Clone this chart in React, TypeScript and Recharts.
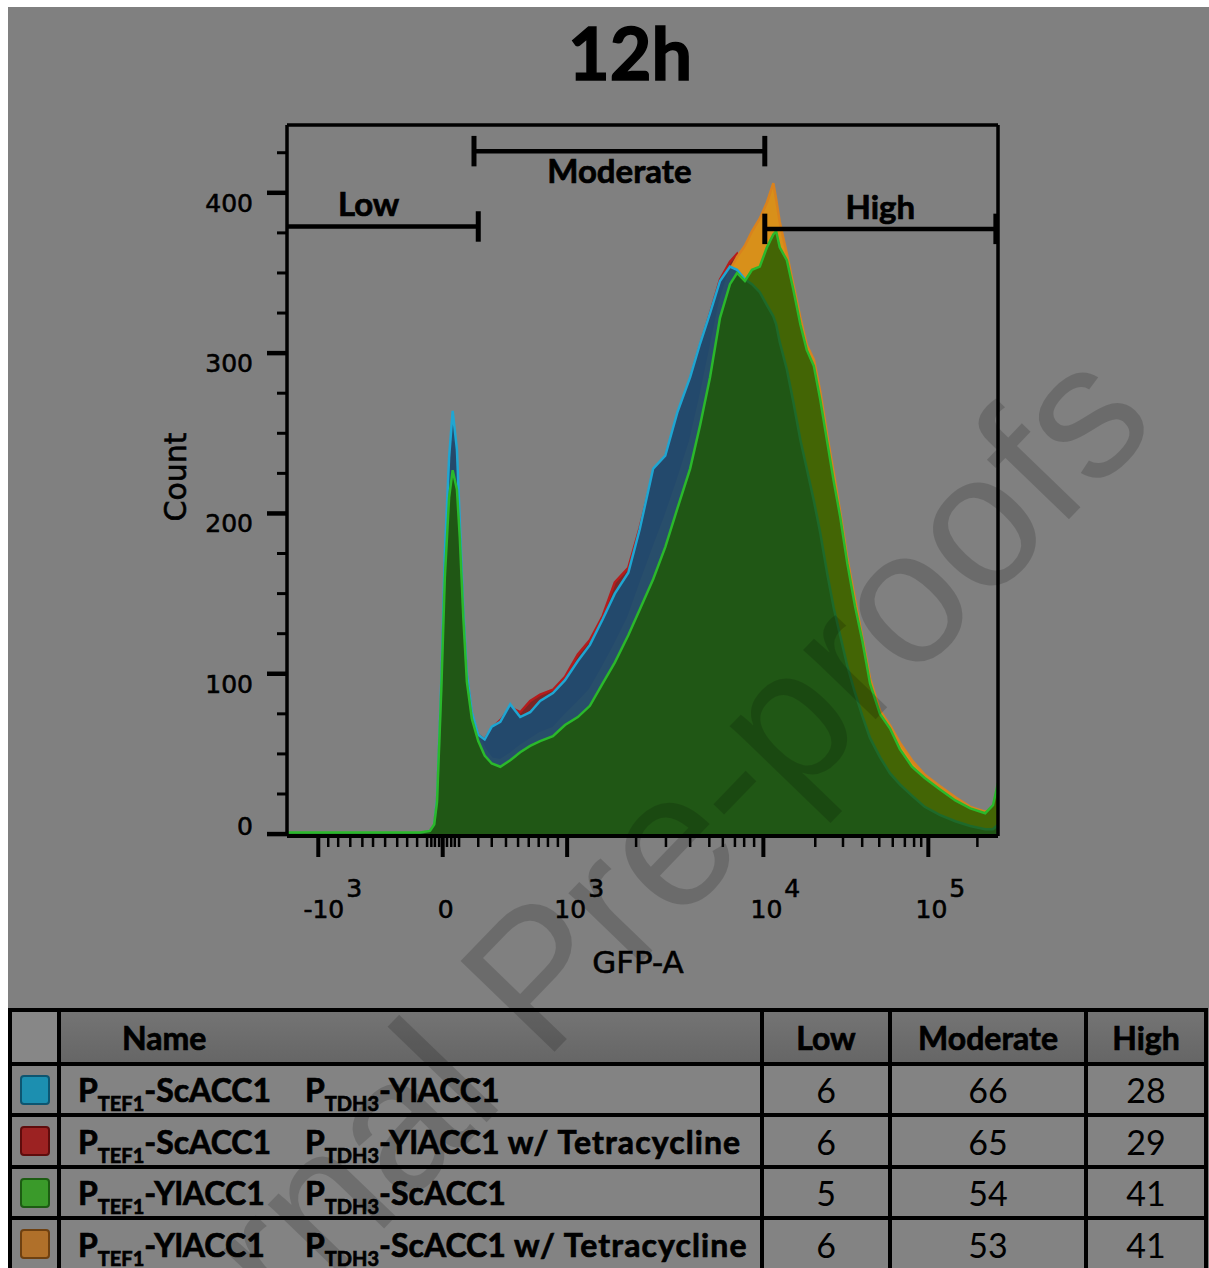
import React from 'react';
import { AreaChart, Area, XAxis, YAxis, ReferenceLine } from 'recharts';

// GFP-A on the instrument display scale (0 = left edge, 1000 = right edge of the plot)
const channels = [
  0, 187, 201, 207, 211, 217, 222, 228, 233, 239, 243, 248, 253, 260, 269, 278, 288, 300, 314, 328,
  342, 356, 374, 391, 409, 426, 444, 461, 480, 496, 515, 532, 549, 567, 581, 595, 609, 623, 633, 644,
  654, 665, 675, 684, 688, 693, 703, 712, 722, 731, 741, 750, 760, 769, 778, 788, 799, 809, 820, 834,
  848, 862, 879, 897, 918, 940, 961, 982, 993, 1000,
];

// counts per channel, one list per strain
const countScTef = [
  0.5, 0.5, 2, 6, 22, 95, 175, 235, 264, 240, 195, 140, 100, 76, 62, 59, 67, 70, 81, 73,
  76, 83, 88, 96, 108, 118, 134, 150, 163, 190, 228, 236, 263, 285, 306, 325, 345, 354, 352, 346,
  343, 338, 330, 323, 318, 307, 290, 270, 246, 228, 208, 188, 162, 141, 124, 105, 88, 74, 60, 48,
  38, 31, 24, 17, 12, 8, 5, 3, 3, 6,
];
const countScTefTet = [
  0.5, 0.5, 2, 6, 20, 88, 165, 222, 245, 225, 185, 135, 98, 74, 62, 59, 66, 71, 79, 76,
  83, 87, 90, 98, 112, 121, 136, 157, 166, 191, 225, 235, 260, 284, 305, 325, 346, 357, 362, 350,
  345, 340, 333, 326, 322, 311, 294, 274, 252, 233, 213, 193, 167, 146, 128, 109, 92, 78, 63, 50,
  40, 33, 26, 19, 13, 9, 5, 3, 3, 5,
];
const countYlTef = [
  1, 1, 2, 6, 20, 90, 160, 210, 227, 215, 185, 135, 95, 72, 58, 49, 44, 42, 46, 51,
  55, 58, 61, 68, 73, 80, 94, 107, 124, 140, 159, 179, 203, 228, 255, 285, 322, 343, 350, 345,
  352, 354, 366, 374, 376, 366, 358, 340, 318, 302, 292, 271, 244, 220, 198, 169, 142, 121, 94, 75,
  66, 53, 42, 35, 28, 21, 16, 13, 18, 32,
];
const countYlTefTet = [
  0.5, 0.5, 2, 6, 20, 88, 158, 205, 222, 210, 182, 135, 96, 74, 62, 53, 47, 46, 50, 55,
  59, 63, 66, 74, 82, 90, 104, 118, 135, 155, 178, 198, 220, 245, 272, 302, 332, 352, 360, 367,
  376, 384, 394, 406, 396, 382, 362, 343, 322, 305, 296, 276, 248, 225, 201, 172, 146, 123, 97, 77,
  68, 57, 46, 37, 30, 23, 17, 14, 16, 26,
];

const majorTicks = [44, 219, 394, 670, 902];
const majorBase = ['-10', '0', '10', '10', '10'];
const majorExp = ['3', '', '3', '4', '5'];
const minorTicks = [
  58, 72, 89, 106, 121, 138, 155, 169, 183, 197, 203, 208, 214, 225, 231, 236, 242,
  269, 288, 308, 325, 340, 354, 367, 381, 491, 533, 567, 594, 613, 630, 643, 657,
  743, 782, 809, 833, 852, 869, 882, 892, 971,
];
const countTicks = [0, 25, 50, 75, 100, 125, 150, 175, 200, 225, 250, 275, 300, 325, 350, 375, 400, 425];

const gateNames = ['Low', 'Moderate', 'High'];
const gateFrom = [0, 263, 672];
const gateTo = [269, 672, 997];
const gateLevel = [379, 426, 377.5];

const tefGene = ['ScACC1', 'ScACC1', 'YlACC1', 'YlACC1'];
const tdhGene = ['YlACC1', 'YlACC1', 'ScACC1', 'ScACC1'];
const treatment = ['', ' w/ Tetracycline', '', ' w/ Tetracycline'];
const lowPct = [6, 6, 5, 6];
const moderatePct = [66, 65, 54, 53];
const highPct = [28, 29, 41, 41];

const histogram = channels.map((ch, i) => ({
  ch,
  scTef: countScTef[i],
  scTefTet: countScTefTet[i],
  ylTef: countYlTef[i],
  ylTefTet: countYlTefTet[i],
}));

// drawing order: green last so it sits on top
const series = [
  { key: 'scTefTet', stroke: '#b51c1c', fill: '#7a1c1c', opacity: 0.9 },
  { key: 'ylTefTet', stroke: '#d8821e', fill: '#d8901a', opacity: 1 },
  { key: 'scTef', stroke: '#1fa6d2', fill: '#1f4b70', opacity: 0.95 },
  { key: 'ylTef', stroke: '#2bb82b', fill: '#1e5a00', opacity: 0.8 },
];

const swatchFill = ['#1c8fb0', '#9c2222', '#3a9a2a', '#b0702a'];
const swatchEdge = ['#0d5570', '#5e0c0c', '#1c5c12', '#6e4010'];

const axisFont = '"DejaVu Sans", sans-serif';
const labelFont = 'Lato, "Open Sans", sans-serif';

const GfpTick = (props: any) => {
  const { x, y, payload } = props;
  const i = majorTicks.indexOf(payload.value);
  const major = i >= 0;
  const neg = major && majorBase[i].startsWith('-');
  return (
    <g>
      <line x1={x} x2={x} y1={y} y2={y + (major ? 21 : 11)} stroke="#000" strokeWidth={major ? 4 : 2.5} />
      {major && (
        <g fontSize={25} fontFamily={axisFont} fill="#000" stroke="#000" strokeWidth={0.6}>
          {majorExp[i] === '' ? (
            <text x={x + 3} y={y + 82} textAnchor="middle">
              {majorBase[i]}
            </text>
          ) : (
            <>
              <text x={x + (neg ? 26 : 19)} y={y + 82} textAnchor="end">
                {majorBase[i]}
              </text>
              <text x={x + (neg ? 28 : 21)} y={y + 61}>
                {majorExp[i]}
              </text>
            </>
          )}
        </g>
      )}
    </g>
  );
};

const CountTick = (props: any) => {
  const { x, y, payload } = props;
  const major = payload.value % 100 === 0;
  return (
    <g>
      <line x1={x - (major ? 20 : 10)} x2={x} y1={y} y2={y} stroke="#000" strokeWidth={major ? 4.5 : 3} />
      {major && (
        <text
          x={x - 34}
          y={y + (payload.value === 0 ? 1 : 19)}
          textAnchor="end"
          fontSize={25}
          fontFamily={axisFont}
          fill="#000"
          stroke="#000"
          strokeWidth={0.6}
        >
          {payload.value}
        </text>
      )}
    </g>
  );
};

const cellBase: React.CSSProperties = {
  background: '#838383',
  display: 'flex',
  alignItems: 'center',
  whiteSpace: 'nowrap',
};
const heavy: React.CSSProperties = { fontWeight: 700, WebkitTextStroke: '0.7px #000' };
const headBg = 'linear-gradient(#747474, #666666)';
const sub: React.CSSProperties = { fontSize: 20, position: 'relative', top: 9 };

export default function App() {
  return (
    <div
      style={{
        position: 'fixed',
        left: 8,
        top: 7,
        width: 1201,
        height: 1261,
        background: '#808080',
        overflow: 'hidden',
        fontFamily: labelFont,
      }}
    >
      <svg width={1201} height={1000} style={{ position: 'absolute', left: 0, top: 0 }}>
        <text
          x={622}
          y={73}
          textAnchor="middle"
          fontSize={72}
          fontWeight={700}
          fontFamily={labelFont}
          fill="#000"
          stroke="#000"
          strokeWidth={1.5}
        >
          12h
        </text>
        <text
          x={178}
          y={470}
          transform="rotate(-90 178 470)"
          textAnchor="middle"
          fontSize={30}
          fontFamily={axisFont}
          fill="#000"
          stroke="#000"
          strokeWidth={0.6}
        >
          Count
        </text>
        <text
          x={630}
          y={966}
          textAnchor="middle"
          fontSize={31}
          fontFamily={axisFont}
          fill="#000"
          stroke="#000"
          strokeWidth={0.6}
        >
          GFP-A
        </text>
      </svg>

      <div style={{ position: 'absolute', left: 0, top: 0 }}>
        <AreaChart
          width={1201}
          height={1000}
          data={histogram}
          margin={{ top: 118, right: 211, left: 199, bottom: 111 }}
        >
          <XAxis
            type="number"
            dataKey="ch"
            domain={[0, 1000]}
            ticks={[...minorTicks, ...majorTicks].sort((a, b) => a - b)}
            interval={0}
            tick={(p: any) => <GfpTick {...p} />}
            tickLine={false}
            tickSize={0}
            tickMargin={0}
            axisLine={{ stroke: '#000', strokeWidth: 4 }}
            height={60}
            allowDataOverflow
          />
          <YAxis
            type="number"
            domain={[-1.2, 442.3]}
            ticks={countTicks}
            interval={0}
            tick={(p: any) => <CountTick {...p} />}
            tickLine={false}
            tickSize={0}
            tickMargin={0}
            axisLine={{ stroke: '#000', strokeWidth: 3.5 }}
            width={80}
            allowDataOverflow
          />
          {series.map((s) => (
            <Area
              key={s.key}
              type="linear"
              dataKey={s.key}
              stroke={s.stroke}
              strokeWidth={2.5}
              fill={s.fill}
              fillOpacity={s.opacity}
              isAnimationActive={false}
              dot={false}
              activeDot={false}
            />
          ))}
          <ReferenceLine y={442.3} stroke="#000" strokeWidth={3.5} />
          <ReferenceLine x={1000} stroke="#000" strokeWidth={3.5} />
          {gateNames.map((name, i) => (
            <ReferenceLine
              key={name}
              segment={[
                { x: gateFrom[i], y: gateLevel[i] },
                { x: gateTo[i], y: gateLevel[i] },
              ]}
              stroke="#000"
              strokeWidth={4.5}
              label={{
                value: name,
                position: i === 1 ? 'bottom' : 'top',
                offset: i === 1 ? 8 : 10,
                dx: i === 0 ? -14 : 0,
                fill: '#000',
                stroke: '#000',
                strokeWidth: 0.7,
                fontSize: 33,
                fontWeight: 700,
                fontFamily: labelFont,
              }}
            />
          ))}
          {gateNames.map((name, i) => (
            <ReferenceLine
              key={name + '-end'}
              segment={[
                { x: gateTo[i], y: gateLevel[i] - 9.5 },
                { x: gateTo[i], y: gateLevel[i] + 9.5 },
              ]}
              stroke="#000"
              strokeWidth={5}
            />
          ))}
          {gateNames.slice(1).map((name, j) => (
            <ReferenceLine
              key={name + '-start'}
              segment={[
                { x: gateFrom[j + 1], y: gateLevel[j + 1] - 9.5 },
                { x: gateFrom[j + 1], y: gateLevel[j + 1] + 9.5 },
              ]}
              stroke="#000"
              strokeWidth={5}
            />
          ))}
        </AreaChart>
      </div>

      <div
        style={{
          position: 'absolute',
          left: 0,
          top: 1001,
          width: 1200,
          background: '#000',
          padding: 4,
          boxSizing: 'border-box',
          display: 'grid',
          gridTemplateColumns: '45px 699px 124px 192px 116px',
          gridTemplateRows: '50px 47px 48px 47px 48px',
          gap: 4,
          color: '#000',
        }}
      >
        <div style={{ ...cellBase, background: '#878787' }} />
        <div style={{ ...cellBase, ...heavy, background: headBg, paddingLeft: 61, fontSize: 32 }}>Name</div>
        <div style={{ ...cellBase, ...heavy, background: headBg, justifyContent: 'center', fontSize: 32 }}>Low</div>
        <div style={{ ...cellBase, ...heavy, background: headBg, justifyContent: 'center', fontSize: 32 }}>Moderate</div>
        <div style={{ ...cellBase, ...heavy, background: headBg, justifyContent: 'center', fontSize: 32 }}>High</div>
        {tefGene.map((tef, i) => (
          <React.Fragment key={i}>
            <div style={{ ...cellBase, justifyContent: 'center' }}>
              <div
                style={{
                  width: 26,
                  height: 26,
                  borderRadius: 4,
                  background: swatchFill[i],
                  border: `2px solid ${swatchEdge[i]}`,
                }}
              />
            </div>
            <div style={{ ...cellBase, ...heavy, paddingLeft: 17, fontSize: 32 }}>
              <span style={{ display: 'inline-block', width: 227 }}>
                P<span style={sub}>TEF1</span>-{tef}
              </span>
              <span>
                P<span style={sub}>TDH3</span>-{tdhGene[i]}
                <span style={{ letterSpacing: 1.1 }}>{treatment[i]}</span>
              </span>
            </div>
            <div style={{ ...cellBase, justifyContent: 'center', fontSize: 34 }}>{lowPct[i]}</div>
            <div style={{ ...cellBase, justifyContent: 'center', fontSize: 34 }}>{moderatePct[i]}</div>
            <div style={{ ...cellBase, justifyContent: 'center', fontSize: 34 }}>{highPct[i]}</div>
          </React.Fragment>
        ))}
      </div>

      <svg width={1201} height={1261} style={{ position: 'absolute', left: 0, top: 0, pointerEvents: 'none' }}>
        <text
          x={1152}
          y={418}
          transform="rotate(-46 1152 418)"
          textAnchor="end"
          fontSize={190}
          fontFamily='"Liberation Sans", Arial, sans-serif'
          fill="rgba(0,0,0,0.16)"
        >
          Journal Pre-proofs
        </text>
      </svg>
    </div>
  );
}
